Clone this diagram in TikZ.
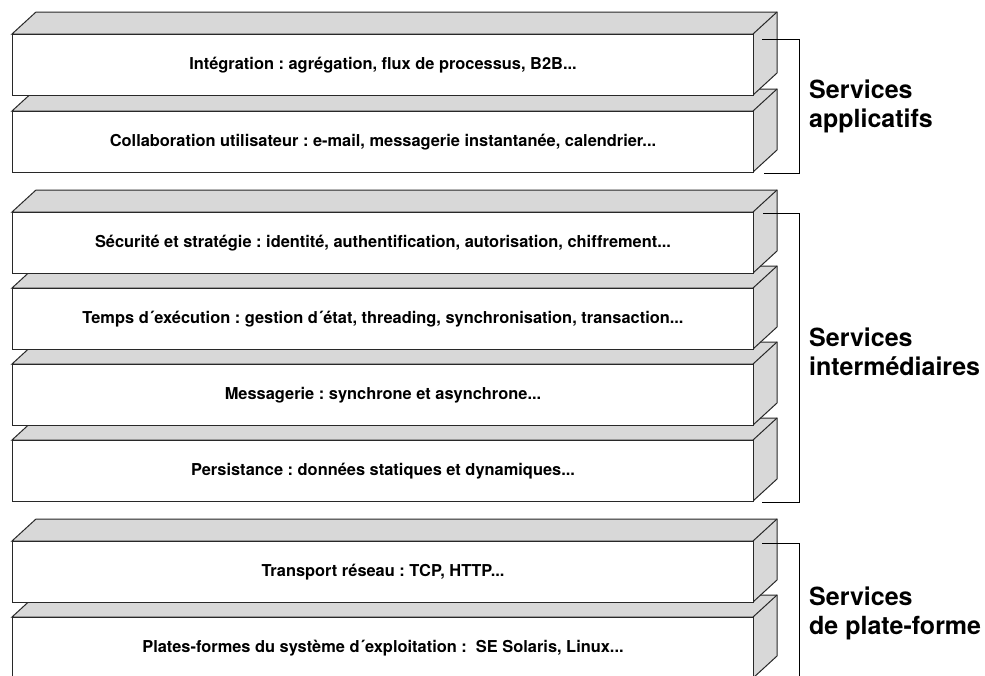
\documentclass[tikz,border=0pt]{standalone}
\usepackage{fontspec}
\setmainfont[Ligatures=NoCommon]{TeX Gyre Heros}
\definecolor{sideface}{RGB}{216,216,216}
\definecolor{edgeline}{RGB}{40,40,40}

\tikzset{
  edge/.style={draw=edgeline, line width=1pt, line join=miter},
  face/.style={edge, fill=sideface},
  front/.style={edge, fill=white, anchor=north west, inner sep=0pt,
    minimum width=741pt, minimum height=61pt,
    font=\frenchspacing\bfseries\fontsize{16.4}{19}\selectfont},
  bracket/.style={draw=black, line width=1pt},
  grouplabel/.style={anchor=north west, align=left, inner sep=0pt,
    font=\bfseries\fontsize{25}{29}\selectfont}
}

% one layer: grey top and side faces, then the white front face with its text
% #1 node name, #2 y of the front top edge, #3 text
\newcommand\layerbox[3]{%
  \draw[face] (12,#2) -- ++(24,-22) -- ++(741,0) -- ++(0,61)
              -- ++(-24,22) -- ++(0,-61) -- cycle;
  \draw[edge] (753,#2) -- ++(24,-22);
  \node[front] (#1) at (12,#2) {#3};
}

\begin{document}
\begin{tikzpicture}[x=1pt,y=-1pt]
  \useasboundingbox (0,0) rectangle (985,675);
  \clip (0,0) rectangle (985,675);

  % platform services (drawn bottom-up so upper layers overlap)
  \layerbox{b8}{617}{Plates-formes du système d´exploitation :\ \ SE Solaris, Linux...}
  \layerbox{b7}{541}{Transport réseau : TCP, HTTP...}

  % middleware services
  \layerbox{b6}{440}{Persistance : données statiques et dynamiques...}
  \layerbox{b5}{364}{Messagerie : synchrone et asynchrone...}
  \layerbox{b4}{288}{Temps d´exécution : gestion d´état, threading, synchronisation, transaction...}
  \layerbox{b3}{212}{Sécurité et stratégie : identité, authentification, autorisation, chiffrement...}

  % application services
  \layerbox{b2}{111}{Collaboration utilisateur : e-mail, messagerie instantanée, calendrier...}
  \layerbox{b1}{34}{Intégration : agrégation, flux de processus, B2B...}

  % group brackets
  \draw[bracket] ([shift={(8,5)}]b1.north east) -| ([xshift=45pt]b2.south east)
                 -- ([xshift=10pt]b2.south east);
  \draw[bracket] ([shift={(9,1)}]b3.north east) -| ([xshift=45pt]b6.south east)
                 -- ([xshift=8pt]b6.south east);
  \draw[bracket] ([shift={(8,2)}]b7.north east) -| ([shift={(45,20)}]b8.south east);

  % group labels
  \node[grouplabel] (g1) at (809,80)  {Services\\applicatifs};
  \node[grouplabel] (g2) at (809,328) {Services\\intermédiaires};
  \node[grouplabel] (g3) at (809,587) {Services\\de plate-forme};
\end{tikzpicture}
\end{document}
